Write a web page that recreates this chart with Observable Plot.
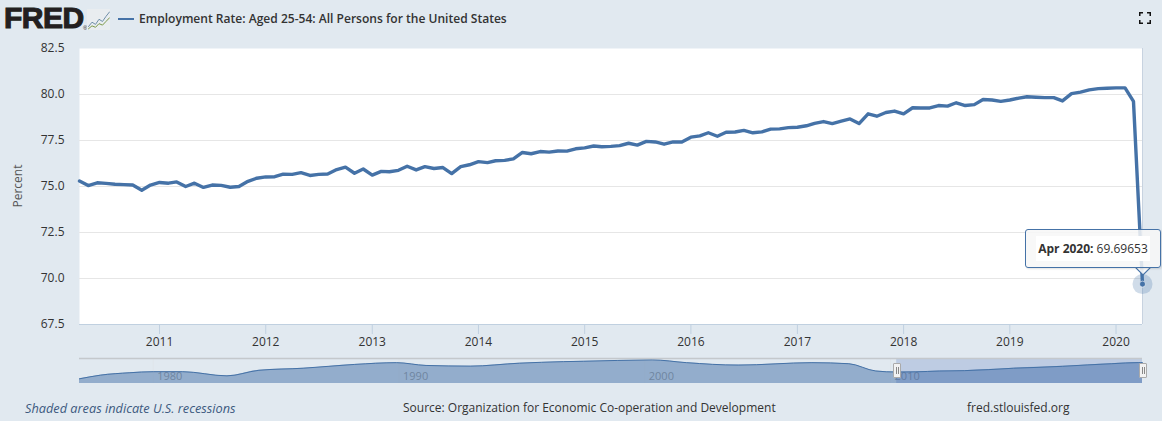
<!DOCTYPE html>
<html><head><meta charset="utf-8">
<script src="https://cdn.jsdelivr.net/npm/d3@7"></script>
<script src="https://cdn.jsdelivr.net/npm/@observablehq/plot@0.6"></script>
<style>
html,body{margin:0;padding:0;background:#e1e9f0;width:1162px;height:421px;overflow:hidden;font-family:"Open Sans",sans-serif}
#root{position:relative;width:1162px;height:421px}
#root>*{position:absolute}
.foot{font-size:12px;line-height:18px;color:#333;white-space:nowrap}
.handle{width:8px;height:15px;top:363px;background:#f2f2f2;border:1px solid #aaa;box-sizing:border-box;border-radius:1px}
.handle:after{content:"";position:absolute;left:1.5px;top:3px;width:1px;height:7px;border-left:1px solid #888;border-right:1px solid #888}
</style></head>
<body><div id="root"></div>
<script>
const startYear = 2010, startMonth = 3;
const rate2010 = [75.30,75.05,75.20,75.17,75.12,75.10,75.08,74.80,75.08];
const rate2011 = [75.22,75.18,75.25,75.00,75.18,74.95,75.08,75.06,74.96,75.00,75.28,75.45];
const rate2012 = [75.52,75.53,75.67,75.66,75.75,75.60,75.66,75.68,75.92,76.05,75.72,75.95];
const rate2013 = [75.62,75.82,75.80,75.88,76.10,75.90,76.08,75.98,76.03,75.70,76.08,76.18];
const rate2014 = [76.35,76.30,76.40,76.42,76.50,76.85,76.78,76.90,76.87,76.93,76.92,77.05];
const rate2015 = [77.10,77.20,77.16,77.18,77.22,77.35,77.25,77.45,77.42,77.30,77.42,77.42];
const rate2016 = [77.68,77.75,77.92,77.73,77.95,77.96,78.05,77.92,77.97,78.12,78.13,78.20];
const rate2017 = [78.22,78.30,78.43,78.53,78.42,78.55,78.67,78.42,78.95,78.82,79.02,79.10];
const rate2018 = [78.95,79.28,79.27,79.27,79.40,79.37,79.55,79.40,79.45,79.73,79.70,79.63];
const rate2019 = [79.70,79.80,79.88,79.85,79.83,79.83,79.65,80.05,80.13,80.25,80.32,80.34];
const rate2020 = [80.36,80.36,79.63,69.69653];
const yTicks = [67.5,70,72.5,75,77.5,80,82.5];
const xTickYears = [2011,2012,2013,2014,2015,2016,2017,2018,2019,2020];
const navYears = [1977,1977.85,1979.05,1980,1981.2,1983,1984.3,1986.1,1988.2,1989.9,1991.1,1992.9,1994.9,1996.7,1997.5,2000.3,2001.7,2003.8,2006.8,2008.3,2009.4,2010.25,2011,2012,2013,2014,2015,2016,2017,2018,2019,2020.1,2020.25];
const navValues = [71.0,73.1,74.5,75.1,75.1,72.7,75.9,77.1,79.3,80.3,78.7,78.3,80.0,80.9,81.1,81.9,80.3,78.9,80.3,79.7,75.5,74.9,75.0,75.5,75.7,76.3,77.1,77.6,78.2,79.0,79.7,80.35,80.3];
const navLabels = [1980,1990,2000,2010];
const iconX = [0,1,2,3,4,5,6];
const iconBlue = [2,5,3.5,7,5.5,9,12];
const iconGreen = [0.5,2.5,1.5,4,3,5.5,8];

const C = "#4572a7", T = "#333";
const rates = [...rate2010,...rate2011,...rate2012,...rate2013,...rate2014,...rate2015,...rate2016,...rate2017,...rate2018,...rate2019,...rate2020];
const series = rates.map((v,i)=>({date:new Date(Date.UTC(startYear,startMonth+i,1)),v}));
const last = series[series.length-1];
const root = document.getElementById("root");
const add = (html,css)=>{const d=document.createElement("div");d.innerHTML=html;d.style.cssText=css||"";root.appendChild(d);return d;};

const main = Plot.plot({
  width:1162,height:421,marginLeft:79,marginRight:20,marginTop:48,marginBottom:97,
  style:{background:"transparent",fontFamily:"Open Sans",fontSize:"12px",color:T,overflow:"visible"},
  x:{type:"utc",domain:[series[0].date,last.date]},
  y:{domain:[67.5,82.5]},
  marks:[
    Plot.frame({fill:"white",stroke:null}),
    Plot.gridY(yTicks.slice(1,-1),{stroke:"#e6e6e6",strokeOpacity:1,strokeWidth:1}),
    Plot.ruleY([67.5],{stroke:"#c0d0e0"}),
    Plot.ruleX([last.date],{stroke:"#c8d3e0",strokeWidth:1}),
    Plot.axisX(xTickYears.map(y=>new Date(Date.UTC(y,0,1))),{tickSize:10,tickPadding:3,stroke:"#c0d0e0",fill:T,fontSize:12,label:null,tickFormat:d=>String(d.getUTCFullYear())}),
    Plot.axisY(yTicks,{tickSize:0,tickPadding:15,fill:T,fontSize:12,label:null,tickFormat:d3.format(".1f")}),
    Plot.lineY(series,{x:"date",y:"v",stroke:C,strokeWidth:3.4,strokeLinejoin:"round"}),
    Plot.dot([last],{x:"date",y:"v",r:10,fill:C,fillOpacity:0.25}),
    Plot.dot([last],{x:"date",y:"v",r:3,fill:C,stroke:"white",strokeWidth:0.6})
  ]
});
main.style.left="0";main.style.top="0";root.appendChild(main);

const navData = navYears.map((y,i)=>({y,v:navValues[i]}));
const nav = Plot.plot({
  width:1162,height:25,marginLeft:79,marginRight:20,marginTop:0,marginBottom:0,
  style:{background:"transparent",fontFamily:"Open Sans",fontSize:"12px",overflow:"visible"},
  x:{type:"linear",domain:[1977,2020.25],axis:null},
  y:{domain:[68.3,82.7],axis:null},
  marks:[
    Plot.ruleX(navLabels,{stroke:"#dfe5ea",strokeWidth:1}),
    Plot.text(navLabels,{x:d=>d,y:72.2,text:d=>String(d),dx:4,textAnchor:"start",fill:"#999",fontSize:11}),
    Plot.areaY(navData,{x:"y",y1:68.3,y2:"v",fill:C,fillOpacity:0.5,curve:"monotone-x"}),
    Plot.rect([0],{x1:2010.25,x2:2020.25,y1:68.3,y2:82.7,fill:"#335cad",fillOpacity:0.2}),
    Plot.lineY(navData,{x:"y",y:"v",stroke:C,strokeWidth:1,curve:"monotone-x"}),
    Plot.ruleY([82.7],{stroke:"#c4c8cc",strokeWidth:1.5})
  ]
});
nav.style.left="0";nav.style.top="358px";root.appendChild(nav);
add("", "left:893px").className="handle";
add("", "left:1139px").className="handle";

// header
add('FRED','left:4px;top:6px;font:900 30px/24px "Liberation Sans";color:#231f20;-webkit-text-stroke:1.1px #231f20;white-space:nowrap;letter-spacing:-0.5px');
add('®','left:83px;top:24px;font:6px/8px "Liberation Sans";color:#231f20');
const icon = Plot.plot({
  width:23,height:21,margin:1,
  style:{background:"#e9edf0",overflow:"hidden"},
  x:{axis:null},y:{axis:null,domain:[0,13]},
  marks:[
    Plot.lineY(iconX.map(i=>({i,v:iconBlue[i]})),{x:"i",y:"v",stroke:"#6f8ea8",strokeWidth:1}),
    Plot.lineY(iconX.map(i=>({i,v:iconGreen[i]})),{x:"i",y:"v",stroke:"#7d9a4a",strokeWidth:1})
  ]
});
icon.style.left="87px";icon.style.top="9px";root.appendChild(icon);
add('','left:118px;top:18px;width:16px;height:2px;background:'+C);
add('Employment Rate: Aged 25-54: All Persons for the United States','left:139px;top:10px;font:600 12.05px/18px "Open Sans";color:#333;white-space:nowrap');
add('<svg width="12" height="12" style="display:block"><path d="M0.75 4V0.75H4M8 0.75H11.25V4M11.25 8V11.25H8M4 11.25H0.75V8" fill="none" stroke="#111" stroke-width="1.5"/></svg>','left:1139px;top:12px');
add('Percent','left:18px;top:186px;font:12px/14px "Open Sans";color:#555;transform:translate(-50%,-50%) rotate(-90deg);white-space:nowrap');

// tooltip
add('<svg width="16" height="9" style="display:block"><path d="M0 0L8 8L16 0" fill="#fbfbfb" fill-opacity=".9" stroke="'+C+'" stroke-width="1.2"/></svg>','left:1135px;top:267px');
add('<span style="background:#fff;padding:4px 2px"><b style="font-weight:700">Apr 2020:</b> 69.69653</span>','left:1025px;top:229px;width:136px;height:39px;box-sizing:border-box;border:1px solid '+C+';border-radius:3px;background:rgba(247,247,247,.85);font:12px/38px "Open Sans";color:#333;text-align:center;white-space:nowrap;box-shadow:1px 1px 2px rgba(0,0,0,.12)');

// footer
add('Shaded areas indicate U.S. recessions','left:25px;font-style:italic;color:#3d5a80;font-size:12.75px').className="foot";
add('Source: Organization for Economic Co-operation and Development','left:403px').className="foot";
add('fred.stlouisfed.org','left:967px').className="foot";
root.querySelectorAll(".foot").forEach(e=>e.style.top="399px");
</script>
</body></html>
